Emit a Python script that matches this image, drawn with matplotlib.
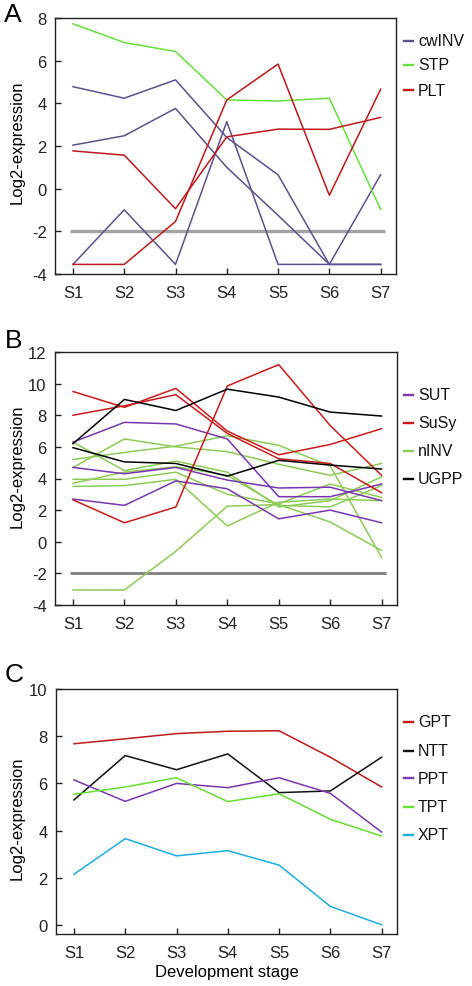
import matplotlib
matplotlib.use('Agg')
import matplotlib.pyplot as plt
from matplotlib.lines import Line2D

plt.rcParams['font.family'] = ['Liberation Sans', 'DejaVu Sans']
plt.rcParams['axes.unicode_minus'] = False

# x categories
stages = ['S1', 'S2', 'S3', 'S4', 'S5', 'S6', 'S7']
threshold = -2

# panel A
cwINV = [[4.78, 4.24, 5.10, 2.4, 0.65, -3.55, 0.65],
         [2.04, 2.48, 3.76, 1.0, -1.25, -3.55, -3.55],
         [-3.55, -0.99, -3.55, 3.14, -3.55, -3.55, -3.55]]
STP = [[7.73, 6.85, 6.43, 4.16, 4.11, 4.24, -0.97]]
PLT = [[1.77, 1.57, -0.94, 2.43, 2.79, 2.78, 3.34],
       [-3.55, -3.55, -1.54, 4.16, 5.84, -0.31, 4.66]]

# panel B
SUT = [[6.3, 7.55, 7.45, 6.5, 2.85, 2.85, 3.65],
       [4.7, 4.3, 4.7, 3.9, 3.4, 3.45, 2.6],
       [2.7, 2.3, 3.85, 3.35, 1.45, 2.0, 1.2]]
SuSy = [[9.5, 8.5, 9.7, 7.0, 5.5, 6.15, 7.15],
        [8.0, 8.6, 9.3, 6.85, 5.25, 4.95, 3.1],
        [2.65, 1.2, 2.2, 9.85, 11.2, 7.35, 4.2]]
nINV = [[6.3, 4.5, 5.1, 4.4, 2.2, 2.6, 4.1],
        [4.7, 6.5, 6.0, 5.7, 4.9, 4.2, 4.95],
        [5.2, 5.65, 6.05, 6.7, 6.1, 4.8, -1.0],
        [3.95, 3.95, 4.4, 3.0, 2.4, 3.65, 2.8],
        [3.7, 4.4, 4.75, 4.2, 2.3, 2.2, 3.55],
        [3.5, 3.55, 3.95, 1.0, 2.5, 2.7, 2.6],
        [-3.05, -3.05, -0.6, 2.25, 2.35, 1.25, -0.55]]
UGPP = [[6.2, 9.0, 8.3, 9.65, 9.15, 8.2, 7.95],
        [5.95, 5.05, 4.95, 4.15, 5.15, 4.85, 4.6]]

# panel C
GPT = [7.68, 7.89, 8.11, 8.21, 8.23, 7.11, 5.85]
NTT = [5.3, 7.18, 6.58, 7.25, 5.61, 5.68, 7.11]
PPT = [6.15, 5.24, 6.0, 5.82, 6.24, 5.58, 3.94]
TPT = [5.54, 5.85, 6.24, 5.23, 5.56, 4.48, 3.77]
XPT = [2.15, 3.66, 2.93, 3.15, 2.54, 0.79, 0.01]

W, H = 472, 987
fig = plt.figure(figsize=(W / 100, H / 100), dpi=100)


def px_box(left, top, right, bottom):
    return [left / W, 1 - bottom / H, (right - left) / W, (bottom - top) / H]


def style_axes(ax, ylim, yticks):
    ax.set_xlim(-0.35, 6.3)
    ax.set_ylim(*ylim)
    ax.set_xticks(range(len(stages)))
    ax.set_xticklabels(stages)
    ax.set_yticks(yticks)
    ax.tick_params(direction='in', length=4, width=1, labelsize=12, colors='#222222')
    ax.tick_params(axis='x', pad=8)
    ax.tick_params(axis='y', pad=6)
    for s in ax.spines.values():
        s.set_linewidth(1.0)
        s.set_color('#222222')


def draw_legend(labels, colors, ys):
    # small line + label to the right of the axes
    for lab, col, y in zip(labels, colors, ys):
        fig.add_artist(Line2D([404 / W, 413 / W], [1 - y / H] * 2, color=col, lw=1.7))
        fig.text(418 / W, 1 - y / H, lab, va='center', ha='left', fontsize=11.5, color='#111111')


def panel_text(letter, x, y_base, ylab_center):
    fig.text(x / W, 1 - y_base / H, letter, fontsize=19, va='baseline', ha='left')
    fig.text(17.5 / W, 1 - ylab_center / H, 'Log2-expression', rotation=90,
             va='center', ha='center', fontsize=12)


x = list(range(len(stages)))

# ---- A
axA = fig.add_axes(px_box(55, 19, 396, 275))
axA.hlines(threshold, -0.05, 6.08, color='#a3a3a3', lw=2.4, zorder=1)
for ys in cwINV:
    axA.plot(x, ys, color='#5e4f8f', lw=1.1)
for ys in STP:
    axA.plot(x, ys, color='#66e03a', lw=1.1)
for ys in PLT:
    axA.plot(x, ys, color='#c01818', lw=1.1)
style_axes(axA, (-4, 8), [-4, -2, 0, 2, 4, 6, 8])
draw_legend(['cwINV', 'STP', 'PLT'], ['#5e4f8f', '#66e03a', '#c01818'], [42, 66, 91])
panel_text('A', 4, 22, 142.5)

# ---- B
axB = fig.add_axes(px_box(55, 353, 397, 606))
axB.hlines(threshold, -0.05, 6.08, color='#7f7f7f', lw=2.0, zorder=1)
for ys in nINV:
    axB.plot(x, ys, color='#8ccc55', lw=1.1)
for ys in SUT:
    axB.plot(x, ys, color='#7a35b0', lw=1.1)
for ys in SuSy:
    axB.plot(x, ys, color='#cc1a1a', lw=1.1)
for ys in UGPP:
    axB.plot(x, ys, color='#000000', lw=1.1)
style_axes(axB, (-4, 12), [-4, -2, 0, 2, 4, 6, 8, 10, 12])
draw_legend(['SUT', 'SuSy', 'nINV', 'UGPP'], ['#7a35b0', '#cc1a1a', '#8ccc55', '#000000'],
            [396, 424, 452, 480])
panel_text('B', 5, 348, 466)

# ---- C
axC = fig.add_axes(px_box(56, 690, 397, 935))
c_series = [GPT, NTT, PPT, TPT, XPT]
c_labels = ['GPT', 'NTT', 'PPT', 'TPT', 'XPT']
c_colors = ['#c01818', '#111111', '#7a35b0', '#66dd33', '#1aaee6']
for ys, col in zip(c_series, c_colors):
    axC.plot(x, ys, color=col, lw=1.1)
style_axes(axC, (-0.38, 10), [0, 2, 4, 6, 8, 10])
axC.set_xlabel('Development stage', fontsize=12, labelpad=3)
draw_legend(c_labels, c_colors, [723, 752, 779, 808, 836])
panel_text('C', 5, 682, 818)

fig.savefig('out.png', dpi=100)
